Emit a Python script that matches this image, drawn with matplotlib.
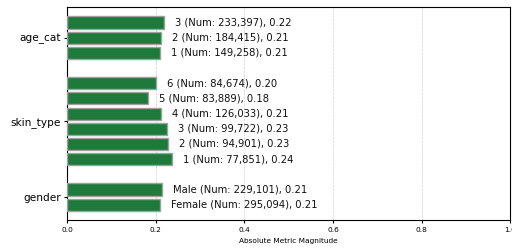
import matplotlib
matplotlib.use("Agg")
import matplotlib.pyplot as plt

# groups listed bottom to top
groups = ["gender", "skin_type", "age_cat"]
levels = {
    "gender": ["Female", "Male"],
    "skin_type": ["1", "2", "3", "4", "5", "6"],
    "age_cat": ["1", "2", "3"],
}
counts = {
    "gender": [295094, 229101],
    "skin_type": [77851, 94901, 99722, 126033, 83889, 84674],
    "age_cat": [149258, 184415, 233397],
}
values = {
    "gender": [0.209, 0.213],
    "skin_type": [0.236, 0.227, 0.226, 0.211, 0.182, 0.200],
    "age_cat": [0.210, 0.212, 0.218],
}

fig, ax = plt.subplots(figsize=(5.12, 2.48), dpi=100)
fig.subplots_adjust(left=0.131, right=0.997, top=0.973, bottom=0.111)

pos = 0
tick_pos = []
for g in groups:
    ys = []
    for lvl, n, v in zip(levels[g], counts[g], values[g]):
        ax.barh(pos, v, height=0.8, color="#1e7a3a", edgecolor="#a0a0a0",
                linewidth=1.0, zorder=3)
        ax.text(v + 0.025, pos, f"{lvl} (Num: {n:,}), {v:.2f}",
                va="center", ha="left", fontsize=7.2, color="#111111")
        ys.append(pos)
        pos += 1
    tick_pos.append(sum(ys) / len(ys))
    pos += 1

ax.set_yticks(tick_pos)
ax.set_yticklabels(groups, fontsize=7.6)
ax.set_xlim(0, 1.0)
ax.tick_params(axis="x", labelsize=5.3, length=2.5, pad=2.5)
ax.tick_params(axis="y", length=2.5, pad=2)
ax.set_xlabel("Absolute Metric Magnitude", fontsize=5.3, labelpad=3)
ax.grid(axis="x", linestyle="--", color="#d0d0d0", linewidth=0.5, zorder=0)
ax.set_axisbelow(True)

fig.savefig("out.png", dpi=100)
